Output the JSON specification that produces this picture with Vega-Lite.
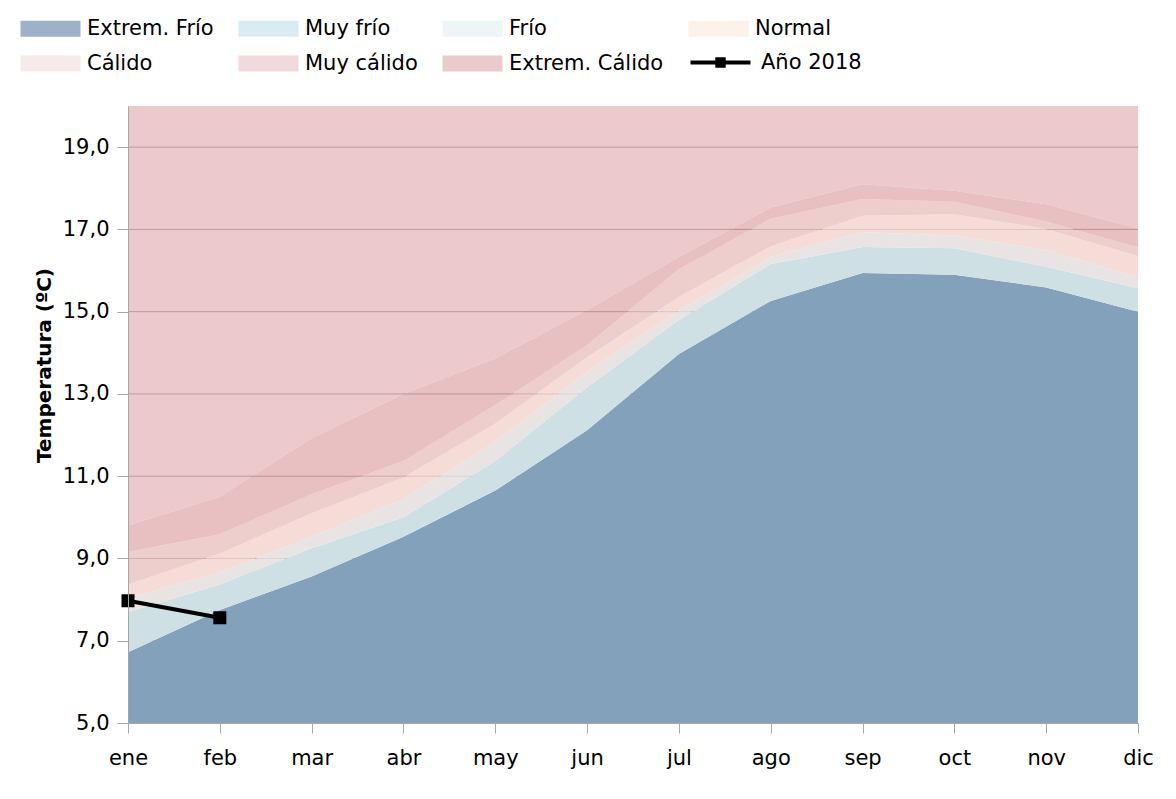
{
  "$schema": "https://vega.github.io/schema/vega-lite/v6.json",
  "autosize": {"type": "none"},
  "width": 1010,
  "height": 617,
  "padding": {"left": 128, "top": 106, "right": 38, "bottom": 76},
  "background": "white",
  "config": {"view": {"stroke": null}},
  "data": {"values": [
    {"mes": "ene", "ef": 6.72, "mf": 7.70, "f": 8.03, "n": 8.37, "c": 9.16, "mc": 9.80, "a2018": 7.97},
    {"mes": "feb", "ef": 7.75, "mf": 8.37, "f": 8.66, "n": 9.12, "c": 9.59, "mc": 10.50, "a2018": 7.56},
    {"mes": "mar", "ef": 8.56, "mf": 9.25, "f": 9.53, "n": 10.10, "c": 10.56, "mc": 11.92, "a2018": null},
    {"mes": "abr", "ef": 9.53, "mf": 10.00, "f": 10.44, "n": 10.97, "c": 11.37, "mc": 13.00, "a2018": null},
    {"mes": "may", "ef": 10.65, "mf": 11.37, "f": 11.84, "n": 12.28, "c": 12.73, "mc": 13.86, "a2018": null},
    {"mes": "jun", "ef": 12.12, "mf": 13.16, "f": 13.54, "n": 13.89, "c": 14.19, "mc": 15.04, "a2018": null},
    {"mes": "jul", "ef": 13.97, "mf": 14.80, "f": 15.02, "n": 15.36, "c": 16.03, "mc": 16.33, "a2018": null},
    {"mes": "ago", "ef": 15.26, "mf": 16.16, "f": 16.33, "n": 16.59, "c": 17.26, "mc": 17.53, "a2018": null},
    {"mes": "sep", "ef": 15.94, "mf": 16.57, "f": 16.93, "n": 17.33, "c": 17.74, "mc": 18.10, "a2018": null},
    {"mes": "oct", "ef": 15.90, "mf": 16.54, "f": 16.85, "n": 17.37, "c": 17.67, "mc": 17.94, "a2018": null},
    {"mes": "nov", "ef": 15.59, "mf": 16.09, "f": 16.50, "n": 17.01, "c": 17.19, "mc": 17.61, "a2018": null},
    {"mes": "dic", "ef": 15.00, "mf": 15.57, "f": 15.83, "n": 16.35, "c": 16.56, "mc": 17.02, "a2018": null}
  ]},
  "layer": [
    {
      "data": {"values": [{"g": 7}, {"g": 9}, {"g": 11}, {"g": 13}, {"g": 15}, {"g": 17}, {"g": 19}]},
      "mark": {"type": "rule", "color": "#6a5f66", "strokeWidth": 1},
      "encoding": {"y": {"field": "g", "type": "quantitative", "scale": {"domain": [5, 20], "nice": false, "zero": false},
        "axis": {"zindex": 1, "values": [5, 7, 9, 11, 13, 15, 17, 19], "labelExpr": "replace(format(datum.value, '.1f'), '.', ',')", "domainColor": "#a6a6a6", "tickColor": "#a6a6a6", "tickSize": 11, "labelFont": "DejaVu Sans", "labelFontSize": 21, "labelColor": "black", "labelPadding": 8, "grid": false, "title": "Temperatura (ºC)", "titleFont": "DejaVu Sans", "titleFontSize": 20, "titleFontWeight": "bold", "titleColor": "black", "titlePadding": 8, "titleY": 259}}}
    },
    {
      "mark": {"type": "area", "color": "#83a1ba", "opacity": 1},
      "encoding": {
        "x": {"field": "mes", "type": "ordinal", "scale": {"type": "point", "padding": 0, "domain": ["ene","feb","mar","abr","may","jun","jul","ago","sep","oct","nov","dic"]}, "axis": {"zindex": 1, "domainColor": "#a6a6a6", "tickColor": "#a6a6a6", "tickSize": 10, "labelFont": "DejaVu Sans", "labelFontSize": 21, "labelColor": "black", "labelPadding": 14, "labelAngle": 0, "title": null, "grid": false}},
        "y": {"field": "ef", "type": "quantitative"},
        "y2": {"datum": 5}
      }
    },
    {
      "mark": {"type": "area", "color": "#cfe0e5", "opacity": 1},
      "encoding": {
        "x": {"field": "mes", "type": "ordinal"},
        "y": {"field": "mf", "type": "quantitative"},
        "y2": {"field": "ef"}
      }
    },
    {
      "mark": {"type": "area", "color": "#e6e2e1", "opacity": 0.92},
      "encoding": {
        "x": {"field": "mes", "type": "ordinal"},
        "y": {"field": "f", "type": "quantitative"},
        "y2": {"field": "mf"}
      }
    },
    {
      "mark": {"type": "area", "color": "#f3d6d0", "opacity": 0.85},
      "encoding": {
        "x": {"field": "mes", "type": "ordinal"},
        "y": {"field": "n", "type": "quantitative"},
        "y2": {"field": "f"}
      }
    },
    {
      "mark": {"type": "area", "color": "#eac1c1", "opacity": 0.8},
      "encoding": {
        "x": {"field": "mes", "type": "ordinal"},
        "y": {"field": "c", "type": "quantitative"},
        "y2": {"field": "n"}
      }
    },
    {
      "mark": {"type": "area", "color": "#e0a5a6", "opacity": 0.7},
      "encoding": {
        "x": {"field": "mes", "type": "ordinal"},
        "y": {"field": "mc", "type": "quantitative"},
        "y2": {"field": "c"}
      }
    },
    {
      "mark": {"type": "area", "color": "#e4b2b3", "opacity": 0.7},
      "encoding": {
        "x": {"field": "mes", "type": "ordinal"},
        "y": {"field": "mc", "type": "quantitative"},
        "y2": {"datum": 20}
      }
    },
    {
      "transform": [{"filter": "isValid(datum.a2018)"}],
      "mark": {"type": "line", "strokeWidth": 4, "point": {"shape": "square", "filled": true, "size": 121, "color": "black", "opacity": 1}},
      "encoding": {
        "x": {"field": "mes", "type": "ordinal"},
        "y": {"field": "a2018", "type": "quantitative"},
        "stroke": {
          "datum": "Año 2018",
          "scale": {"domain": ["Año 2018"], "range": ["black"]},
          "legend": {
            "title": null,
            "orient": "none",
            "legendX": 582,
            "legendY": -54,
            "symbolSize": 256,
            "symbolType": "M-3.75,0H3.75M-0.4,-0.4H0.4V0.4H-0.4Z",
            "symbolStrokeWidth": 4,
            "symbolOpacity": 1,
            "labelFont": "DejaVu Sans",
            "labelFontSize": 21,
            "labelColor": "black",
            "labelOffset": 30
          }
        }
      }
    },
    {
      "data": {"values": [{"cat": "Extrem. Frío"}]},
      "transform": [{"filter": "false"}],
      "mark": {"type": "square", "filled": true},
      "encoding": {
        "color": {
          "field": "cat", "type": "nominal",
          "scale": {
            "domain": ["Extrem. Frío", "Muy frío", "Frío", "Normal", "Cálido", "Muy cálido", "Extrem. Cálido"],
            "range": ["#9db2ca", "#d8ecf1", "#eef5f7", "#fdf2ea", "#f7eaea", "#f1dadb", "#ebcacb"]
          },
          "legend": {
            "title": null,
            "orient": "none",
            "legendX": -88,
            "legendY": -88,
            "direction": "horizontal",
            "columns": 4,
            "symbolSize": 256,
            "symbolType": "M-3.75,-1H3.75V1H-3.75Z",
            "symbolStrokeWidth": 0,
            "symbolOpacity": 1,
            "labelFont": "DejaVu Sans",
            "labelFontSize": 21,
            "labelColor": "black",
            "labelOffset": 26,
            "columnPadding": 24,
            "rowPadding": 13
          }
        }
      }
    }
  ]
}
